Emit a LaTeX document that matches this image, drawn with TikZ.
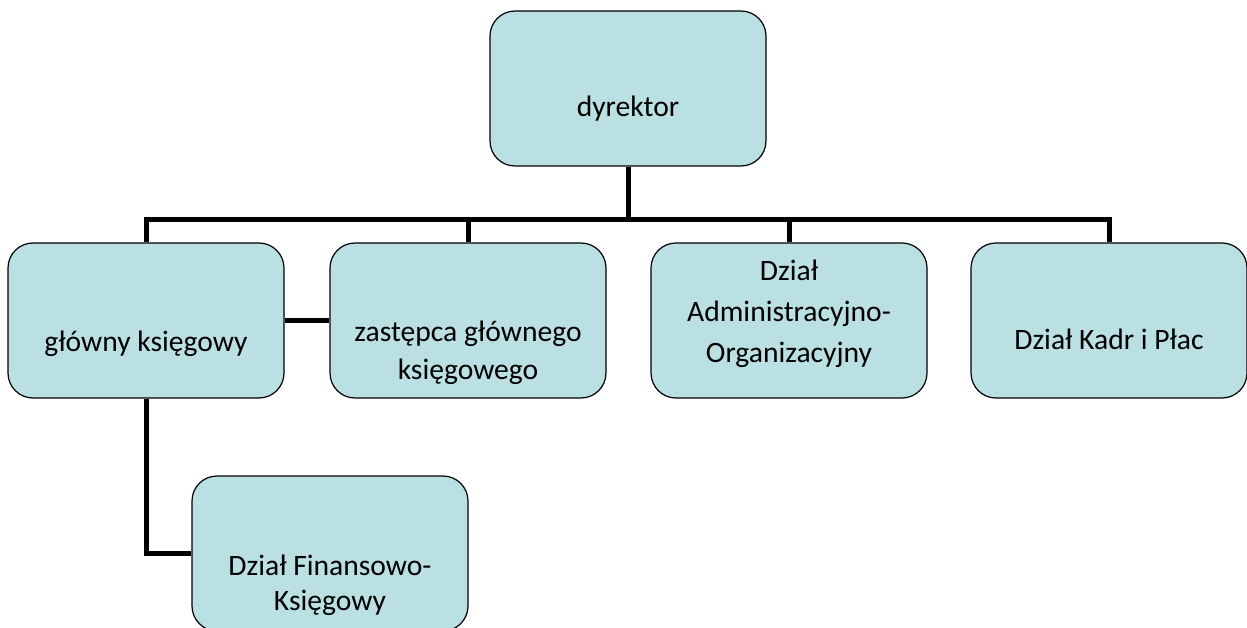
\documentclass[tikz,border=0pt]{standalone}
\usepackage{fontspec}
\setmainfont{Carlito}
\usepackage{tikz}
\usetikzlibrary{positioning}
\definecolor{boxfill}{RGB}{187,224,227}

\begin{document}
\begin{tikzpicture}[x=1pt, y=-1pt, font=\fontsize{29.6}{38}\selectfont,
    box/.style={draw, line width=1.2pt, fill=boxfill, rounded corners=25pt,
        minimum width=276pt, minimum height=155pt, inner sep=0pt},
    txt/.style={align=center, anchor=base, inner sep=0pt},
    conn/.style={line width=5pt}]
        \useasboundingbox (0,0) rectangle (1247,628);
        \node[box] (dyr) at (628,88.5) {};
        \node[box] (gk) at (146,320.5) {};
        \node[box] (zgk) at (468,320.5) {};
        \node[box] (dao) at (789,320.5) {};
        \node[box] (dkp) at (1109,320.5) {};
        \node[box] (dfk) at (330,553.5) {};
        \node[txt] (t-dyr) at (628,117) {dyrektor};
        \node[txt] (t-gk) at (146,351) {główny księgowy};
        \node[txt] (t-zgk) at (468,379) {zastępca głównego\\księgowego};
        \node[txt, font=\fontsize{29.6}{41}\selectfont] (t-dao) at (789,362) {Dział\\Administracyjno-\\Organizacyjny};
        \node[txt] (t-dkp) at (1109,349) {Dział Kadr i Płac};
        \node[txt, font=\fontsize{29.6}{35}\selectfont] (t-dfk) at (330,610) {Dział Finansowo-\\Księgowy};
        \coordinate (bar) at (628,219.5);
        \draw[conn] (dyr.south) -- (bar);
        \foreach \n in {gk,zgk,dao,dkp} \draw[conn] (bar) -| (\n.north);
        \draw[conn] (gk.east) -- (zgk.west);
        \draw[conn] (gk.south) |- (dfk.west);
    \end{tikzpicture}
\end{document}
